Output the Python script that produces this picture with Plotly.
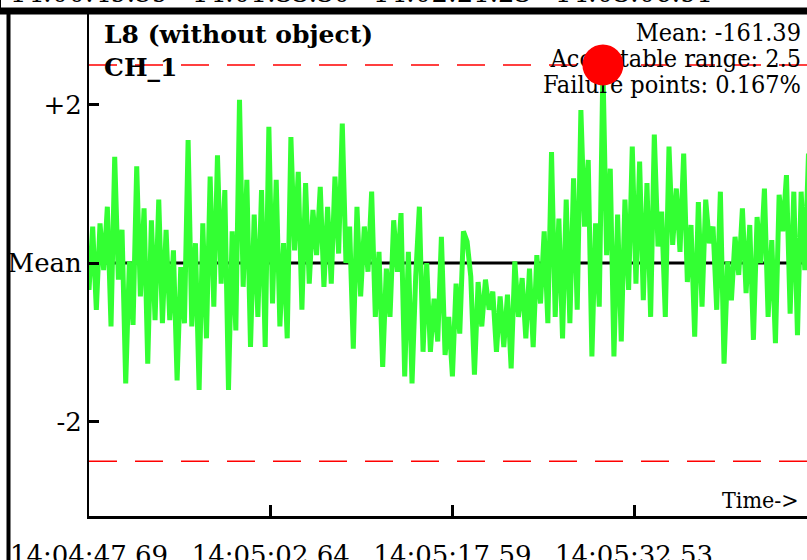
import plotly.graph_objects as go

# ---------------- data ----------------
START_TIME = "14:04:47.69"
SAMPLE_INTERVAL = 0.302  # seconds between samples

# deviation from mean (in sensor units)
DEV_A = [-0.34, 0.46, -0.59, 0.50, -0.09, 0.71, -0.80, 1.34, -0.21, 0.42, -1.52, 0.02, -0.78, 1.22,
         -0.42, 0.69, -1.27, 0.54, -0.72, 0.80, -0.76, 0.42, -0.72, 0.16, -1.48, -0.05, -0.76, 1.55,
         -0.80, 0.25, -1.60, 0.50, -0.95, 1.09, -0.55, 1.36, -0.26, 0.92, -1.60, 0.40, -0.85, 2.06,
         -0.30, 1.05, -1.06, 0.61, -0.68, 0.92, -1.06, 1.72, -0.51]
DEV_B = [1.05, -0.80, 0.25, -0.95, 1.59, 0.16, 1.15, -0.59, 1.01, -0.26, 0.67, 0.10, 0.96, -0.30,
         0.71, -0.26, 1.09, 0.12, 1.76, 0.00, 0.46, -1.08, 0.71, -0.42, 0.46, -0.11, 0.90, -0.68,
         0.14, -1.31, -0.07, -0.68, 0.54, -0.11, 0.63, -1.43, 0.14, -1.52, -0.17, 0.71, -1.12, 0.00,
         -1.12, -0.45, -0.99, 0.33, -1.16, -0.68, -1.43]
DEV_C = [-0.26, -0.89, 0.40, 0.27, -0.17, -1.41, -0.24, -0.80, -0.21, -0.59, -0.36, -1.12, -0.42,
         -1.06, -0.40, -1.33, 0.02, -0.68, -0.19, -0.95, -0.07, -1.06, 0.10, -0.51, 0.40, -0.76,
         1.40, -0.68, 0.56, -0.95, 0.80, -0.76, 1.07, -0.59, 1.93, 0.46, 1.30, -1.18, 0.50, -0.55,
         2.50, 0.10, 1.19, -1.18, 0.61, -0.99]
DEV_D = [0.80, -0.34, 1.47, -0.26, 1.28, -0.47, 1.01, -0.68, 1.62, 0.21, 0.65, -0.68, 1.47, 0.23,
         0.94, 0.14, 1.38, -0.24, 0.48, -0.93, 0.77, -0.55, 0.80, 0.25, 0.46, -0.59, 0.90, -1.27,
         0.02, -0.47, 0.33, -0.15, 0.69, -0.38, 0.48, -0.97, 0.58, 0.00, 0.94, -0.68, 0.29, -1.01,
         0.86, 0.40, 1.11, -0.64, 0.90, -0.91, 0.90, -0.09, 1.38]
DEVIATIONS = DEV_A + DEV_B + DEV_C + DEV_D

MEAN_VALUE = -161.39
ACCEPTABLE_RANGE = 2.5
FAILURE_PCT = 0.167
TITLE = "L8 (without object)"
CHANNEL = "CH_1"

TICK_LABELS = ["14:04:47.69", "14:05:02.64", "14:05:17.59", "14:05:32.53"]
PREV_TICK_LABELS = ["14:00:49.59", "14:01:33.30", "14:02:21.23", "14:03:06.91"]
Y_TICK_VALUES = [2, 0, -2]
Y_TICK_TEXT = ["+2", "Mean", "-2"]


def secs(s):
    h, m, rest = s.split(":")
    return int(h) * 3600 + int(m) * 60 + float(rest)


t0 = secs(START_TIME)
times = [i * SAMPLE_INTERVAL for i in range(len(DEVIATIONS))]
tickvals = [secs(s) - t0 for s in TICK_LABELS]
fail_t = [t for t, v in zip(times, DEVIATIONS) if abs(v) >= ACCEPTABLE_RANGE]
fail_v = [v for v in DEVIATIONS if abs(v) >= ACCEPTABLE_RANGE]

# ---------------- geometry / style ----------------
W, H = 807, 560
ML, MT, MB = 89, 14, 44
PW, PH = W - ML, H - MT - MB
X_RANGE = [0, 59.07]
Y_RANGE = [-3.192, 3.142]

SERIF = "DejaVu Serif"
COND = "DejaVu Serif Condensed, DejaVu Serif"
GREEN = "#33FF33"
RED = "#FF0000"


def dx(px):
    return X_RANGE[0] + (px - ML) / PW * (X_RANGE[1] - X_RANGE[0])


def dy(py):
    return Y_RANGE[1] - (py - MT) / PH * (Y_RANGE[1] - Y_RANGE[0])


def pxp(px):
    return (px - ML) / PW


def pyp(py):
    return (H - MB - py) / PH


fig = go.Figure()

fig.add_trace(go.Scatter(x=times, y=DEVIATIONS, mode="lines",
                         line=dict(color=GREEN, width=5), hoverinfo="skip"))

# stats text (as a trace so that the failure marker can sit on top of it)
stats = [f"Mean: {MEAN_VALUE}", f"Acceptable range: {ACCEPTABLE_RANGE}",
         f"Failure points: {FAILURE_PCT}%"]
fig.add_trace(go.Scatter(x=[dx(801)] * 3, y=[dy(34.5), dy(60.5), dy(86.5)], mode="text",
                         text=stats, textposition="middle left", cliponaxis=False,
                         textfont=dict(family=COND, size=25, color="black"), hoverinfo="skip"))

fig.add_trace(go.Scatter(x=fail_t, y=fail_v, mode="markers",
                         marker=dict(color=RED, size=41, line=dict(width=0)), hoverinfo="skip"))

# mean line and acceptable-range lines
fig.add_hline(y=0, line=dict(color="black", width=3), layer="below")
for s in (1, -1):
    fig.add_hline(y=s * ACCEPTABLE_RANGE, line=dict(color=RED, width=1.5, dash="28px,18px"),
                  layer="below")

annotations = [
    dict(text=f"<b>{TITLE}</b>", x=pxp(102), y=pyp(35), xanchor="left", yanchor="middle"),
    dict(text=f"<b>{CHANNEL}</b>", x=pxp(102), y=pyp(67), xanchor="left", yanchor="middle"),
]
for a in annotations:
    a.update(xref="paper", yref="paper", showarrow=False,
             font=dict(family=SERIF, size=25, color="black"))
annotations.append(dict(text="Time->", xref="paper", yref="paper", x=pxp(801), y=pyp(500),
                        xanchor="right", yanchor="middle", showarrow=False,
                        font=dict(family=COND, size=23, color="black")))
for tv, lab in zip(tickvals, PREV_TICK_LABELS):
    annotations.append(dict(text=lab, xref="x", yref="paper", x=tv, y=pyp(-7),
                            xanchor="center", yanchor="middle", showarrow=False,
                            font=dict(family=SERIF, size=26, color="black")))

shapes = [
    dict(type="line", xref="paper", yref="paper", x0=pxp(8.5), x1=pxp(8.5), y0=pyp(8), y1=pyp(H),
         line=dict(color="black", width=4)),
    dict(type="line", xref="paper", yref="paper", x0=pxp(0), x1=pxp(W), y0=pyp(11), y1=pyp(11),
         line=dict(color="black", width=7)),
    dict(type="line", xref="paper", yref="paper", x0=pxp(0.5), x1=pxp(0.5), y0=pyp(0), y1=pyp(8),
         line=dict(color="black", width=1)),
]

fig.update_layout(
    width=W, height=H, autosize=False,
    margin=dict(l=ML, r=0, t=MT, b=MB, pad=0),
    paper_bgcolor="white", plot_bgcolor="white",
    showlegend=False,
    annotations=annotations,
    shapes=list(fig.layout.shapes) + shapes,
    xaxis=dict(range=X_RANGE, tickmode="array", tickvals=tickvals, ticktext=TICK_LABELS,
               ticks="inside", ticklen=11, tickwidth=3, tickcolor="black", automargin=False,
               showline=True, linewidth=3, linecolor="black", showgrid=False, zeroline=False,
               tickfont=dict(family=SERIF, size=26, color="black"), ticklabelstandoff=14),
    yaxis=dict(range=Y_RANGE, tickmode="array", tickvals=Y_TICK_VALUES, ticktext=Y_TICK_TEXT,
               ticks="inside", ticklen=10, tickwidth=3, tickcolor="black", automargin=False,
               showline=True, linewidth=2, linecolor="black", showgrid=False, zeroline=False,
               tickfont=dict(family=SERIF, size=26, color="black"), ticklabelstandoff=0),
)

fig.write_html("out.html", config={"displayModeBar": False},
               post_script="document.body.style.margin='0';document.body.style.overflow='hidden';")
